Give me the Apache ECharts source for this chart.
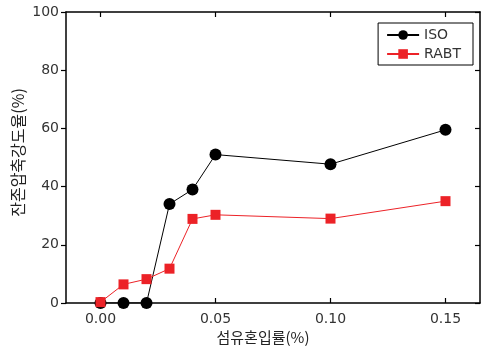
<!DOCTYPE html>
<html>
<head>
<meta charset="utf-8">
<script src="https://cdn.jsdelivr.net/npm/echarts@6/dist/echarts.min.js"></script>
<style>
  html, body { margin: 0; padding: 0; background: #fff; }
  #chart { width: 483px; height: 347px; }
</style>
</head>
<body>
<div id="chart"></div>
<script>
// Fibre content (%) and residual compressive strength ratio (%)
const fiberContent = [0.00, 0.01, 0.02, 0.03, 0.04, 0.05, 0.10, 0.15];
const isoValues = [0, 0, 0, 34, 39, 51, 47.7, 59.5];
const rabtValues = [0.3, 6.4, 8.2, 11.8, 28.9, 30.3, 29.0, 35.0];
const xTicks = [0.00, 0.05, 0.10, 0.15];

const KR_FONT = '"Noto Sans CJK KR", "Noto Sans", sans-serif';
const NUM_FONT = '"DejaVu Sans", sans-serif';
const pairs = (xs, ys) => xs.map((x, i) => [x, ys[i]]);

const chart = echarts.init(document.getElementById('chart'));
const axisLine = { show: true, onZero: false, lineStyle: { color: '#000', width: 1.5 } };
const tickStyle = { color: '#000', width: 1.2 };
const numStyle = { fontFamily: NUM_FONT, fontSize: 14, color: '#333' };

chart.setOption({
  animation: false,
  grid: { left: 66, right: 3, top: 12, bottom: 44, outerBoundsMode: 'none', containLabel: false },
  legend: {
    orient: 'vertical',
    right: 10, top: 23,
    itemWidth: 32, itemHeight: 12, itemGap: 5,
    padding: [5, 12, 4, 8],
    borderColor: '#000', borderWidth: 1,
    textStyle: numStyle,
    data: ['ISO', 'RABT']
  },
  xAxis: [
    {
      type: 'value', min: -0.015, max: 0.165, position: 'bottom',
      name: '섬유혼입률(%)', nameLocation: 'middle', nameGap: 27, nameMoveOverlap: false,
      nameTextStyle: { fontFamily: KR_FONT, fontSize: 15, color: '#222', padding: [0, 20, 0, 0] },
      axisLine: axisLine,
      axisTick: { show: true, inside: true, length: 5, customValues: xTicks, lineStyle: tickStyle },
      axisLabel: Object.assign({ customValues: xTicks, formatter: v => v.toFixed(2), margin: 9 }, numStyle),
      splitLine: { show: false }
    },
    {
      type: 'value', min: -0.015, max: 0.165, position: 'top',
      axisLine: axisLine,
      axisTick: { show: true, inside: true, length: 5, customValues: xTicks, lineStyle: tickStyle },
      axisLabel: { show: false },
      splitLine: { show: false }
    }
  ],
  yAxis: [
    {
      type: 'value', min: 0, max: 100, interval: 20, position: 'left',
      name: '잔존압축강도율(%)', nameLocation: 'middle', nameGap: 40, nameMoveOverlap: false,
      nameTextStyle: { fontFamily: KR_FONT, fontSize: 16, color: '#222', padding: [0, 0, 0, 10] },
      axisLine: axisLine,
      axisTick: { show: true, inside: false, length: 5, lineStyle: tickStyle },
      axisLabel: Object.assign({ margin: 7 }, numStyle),
      splitLine: { show: false }
    },
    {
      type: 'value', min: 0, max: 100, interval: 20, position: 'right',
      axisLine: axisLine,
      axisTick: { show: true, inside: true, length: 5, lineStyle: tickStyle },
      axisLabel: { show: false },
      splitLine: { show: false }
    }
  ],
  series: [
    {
      name: 'ISO', type: 'line', xAxisIndex: 0, yAxisIndex: 0,
      data: pairs(fiberContent, isoValues),
      symbol: 'circle', symbolSize: 12,
      itemStyle: { color: '#000' },
      lineStyle: { color: '#000', width: 1 },
      z: 2
    },
    {
      name: 'RABT', type: 'line', xAxisIndex: 0, yAxisIndex: 0,
      data: pairs(fiberContent, rabtValues),
      symbol: 'rect', symbolSize: 10,
      itemStyle: { color: '#ec2227' },
      lineStyle: { color: '#ec2227', width: 1 },
      z: 3
    }
  ]
});
</script>
</body>
</html>
